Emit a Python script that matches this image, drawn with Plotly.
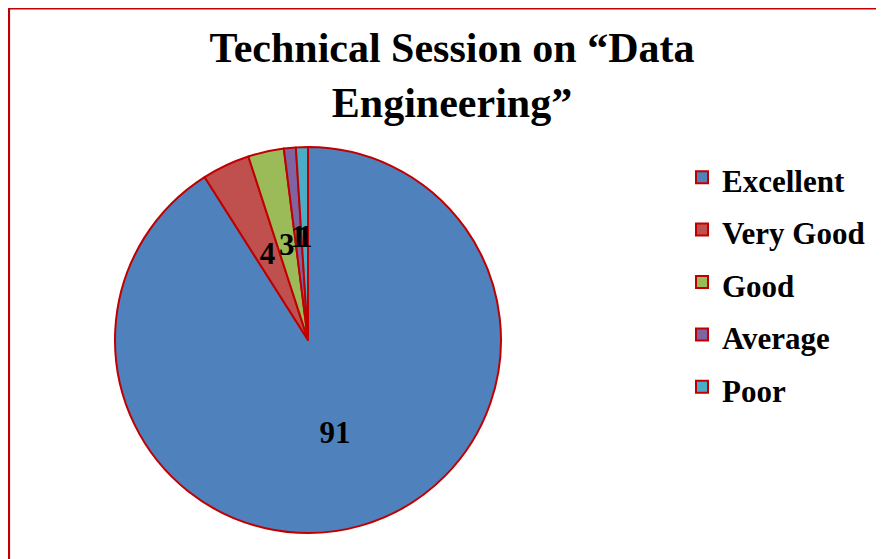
import plotly.graph_objects as go

# Feedback counts
categories = ["Excellent", "Very Good", "Good", "Average", "Poor"]
responses = [91, 4, 3, 1, 1]
colors = ["#4F81BD", "#C0504D", "#9BBB59", "#8064A2", "#4BACC6"]

W, H = 884, 559
OFF = 8  # page body margin shifts the figure by this many px
serif = "Liberation Serif, Times New Roman, serif"
label_font = dict(family=serif, size=31, color="black", weight="bold")

# legend labels wrapped so the rows get the taller spacing of the original
legend_labels = ['<span style="font-size:31px">%s</span>' % c for c in categories]

# pie geometry (screen pixels of the reference)
cx, cy, R = 308 - OFF, 340 - OFF, 193
dom = lambda r: dict(x=[(cx - r) / W, (cx + r) / W], y=[1 - (cy + r) / H, 1 - (cy - r) / H])

# big slice label comes from the main pie
main_text = [str(v) if v > 50 else "" for v in responses]
# the thin slices get their labels from an invisible inner pie, so they sit mid-radius
small_text = [str(v) if v <= 50 else "" for v in responses]

fig = go.Figure()
fig.add_trace(go.Pie(
    labels=legend_labels,
    values=responses,
    text=main_text,
    textinfo="text",
    textposition="inside",
    insidetextorientation="horizontal",
    textfont=label_font,
    marker=dict(colors=colors, line=dict(color="#C00000", width=2)),
    sort=False,
    direction="clockwise",
    rotation=0,
    domain=dom(R),
    hoverinfo="skip",
))
fig.add_trace(go.Pie(
    labels=legend_labels,
    values=responses,
    text=small_text,
    textinfo="text",
    textposition="inside",
    insidetextorientation="horizontal",
    textfont=label_font,
    marker=dict(colors=["rgba(0,0,0,0)"] * 5, line=dict(width=0)),
    sort=False,
    direction="clockwise",
    rotation=0,
    domain=dom(107),
    showlegend=False,
    hoverinfo="skip",
))

fig.update_layout(
    width=W, height=H,
    margin=dict(l=0, r=0, t=0, b=0),
    paper_bgcolor="white",
    title=dict(
        text="Technical Session on “Data<br>Engineering”",
        font=dict(family=serif, size=42, color="black", weight="bold"),
        x=(452 - OFF) / W, xanchor="center",
        y=1 - 54 / H, yanchor="top", yref="container",
    ),
    legend=dict(
        font=dict(family=serif, size=38, color="black", weight="bold"),
        x=(682 - OFF) / W, xanchor="left",
        y=1 - (154 - 2 * OFF) / H, yanchor="top",
        bgcolor="rgba(0,0,0,0)",
    ),
    uniformtext=dict(minsize=31, mode="show"),
    shapes=[dict(
        type="rect", xref="paper", yref="paper",
        x0=1 / W, x1=1.05, y0=-0.05, y1=1 - 0.5 / H,
        line=dict(color="#C00000", width=2.2),
        fillcolor="rgba(0,0,0,0)",
    )],
)

fig.write_html("out.html")
